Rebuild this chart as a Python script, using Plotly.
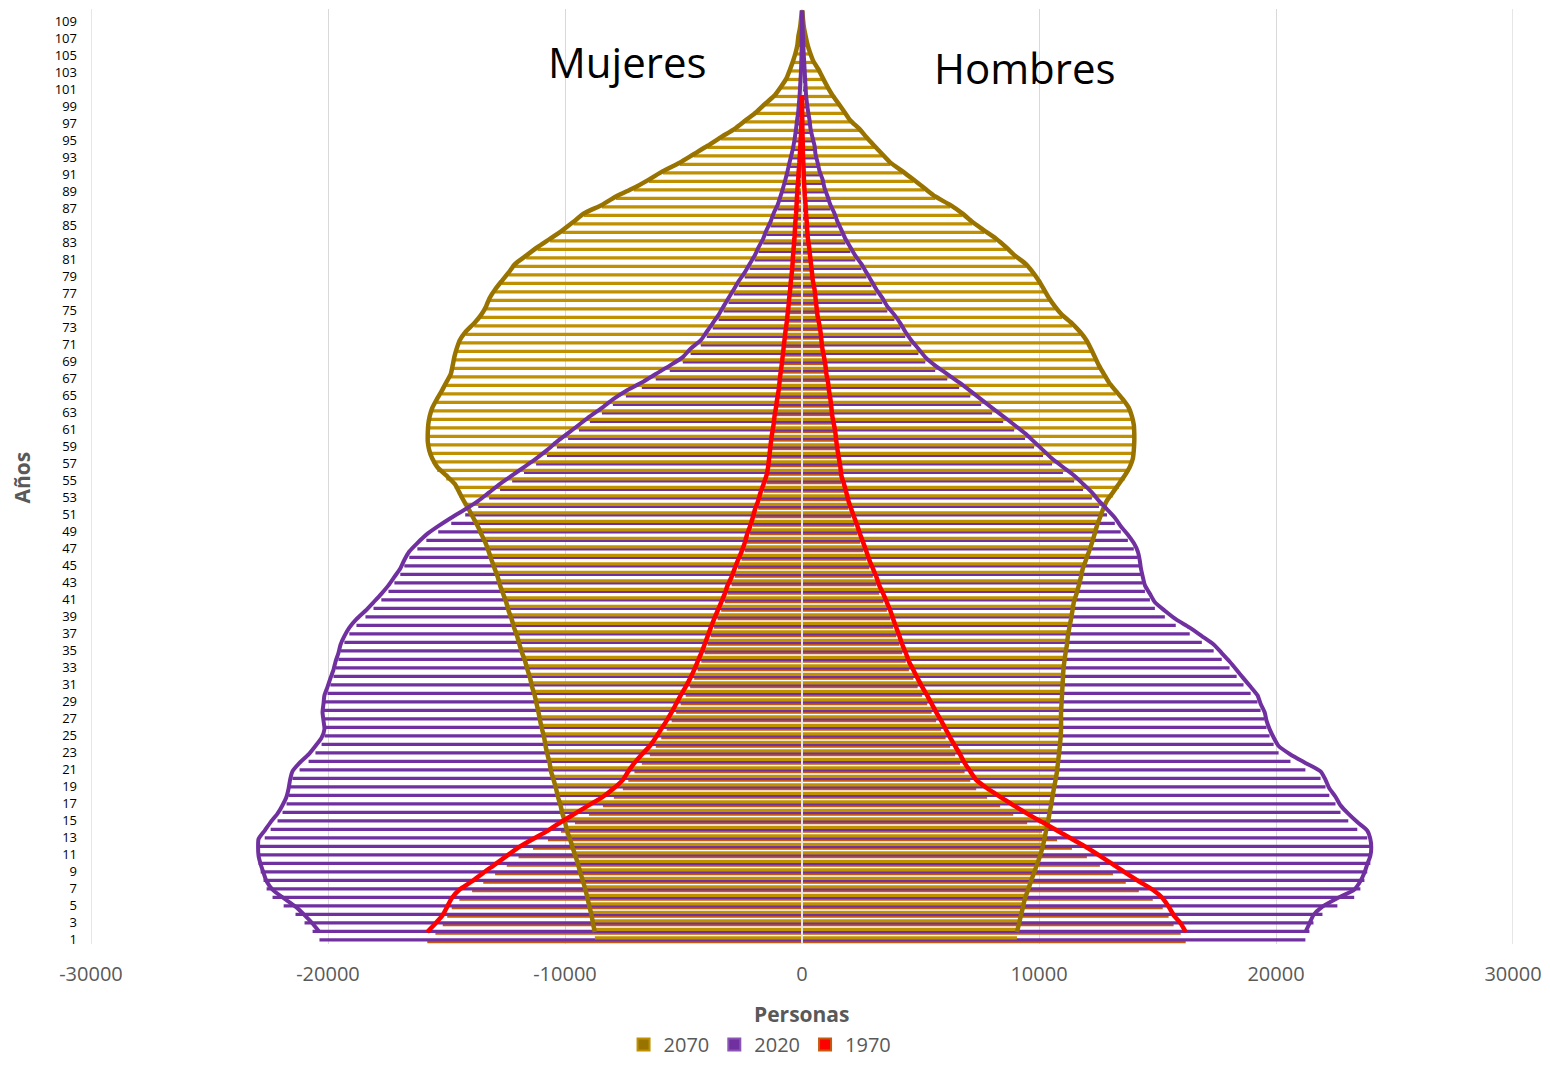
import plotly.graph_objects as go

# ---------------- data ----------------
edad = list(range(1, 111))

hombres_2020 = [
    21240, 21410, 21580, 21960, 22590, 23300, 23560, 23730, 23850, 23980,
    24020, 23980, 23850, 23430, 23050, 22720, 22510, 22250, 22090, 21880,
    21240, 20610, 20110, 19900, 19730, 19600, 19520, 19350, 19220, 18930,
    18630, 18340, 18040, 17710, 17370, 16870, 16360, 15770, 15310, 14890,
    14680, 14470, 14380, 14300, 14250, 14170, 14000, 13750, 13450, 13200,
    12870, 12530, 12230, 11860, 11480, 11010, 10550, 10170, 9790, 9410,
    8950, 8490, 8020, 7560, 7100, 6630, 6130, 5620, 5200, 4910,
    4610, 4360, 4150, 3900, 3600, 3390, 3140, 2930, 2720, 2510,
    2250, 2040, 1830, 1670, 1500, 1370, 1200, 1080, 950, 870,
    740, 660, 570, 530, 440, 360, 320, 260, 210, 170,
    150, 130, 110, 90, 70, 55, 40, 30, 20, 12]

mujeres_2020 = [
    20360, 20650, 20990, 21370, 21870, 22340, 22590, 22720, 22840, 22930,
    22950, 22930, 22670, 22420, 22130, 21920, 21750, 21660, 21600, 21500,
    21200, 20820, 20530, 20270, 20150, 20190, 20230, 20190, 20150, 20020,
    19900, 19770, 19680, 19560, 19470, 19310, 19100, 18800, 18420, 18080,
    17750, 17450, 17200, 16950, 16780, 16570, 16230, 15850, 15350, 14800,
    14210, 13660, 13200, 12740, 12230, 11730, 11220, 10760, 10340, 9870,
    9410, 8950, 8440, 7980, 7430, 6760, 6170, 5580, 5030, 4700,
    4270, 4020, 3770, 3520, 3310, 3100, 2880, 2670, 2420, 2210,
    2000, 1830, 1640, 1500, 1330, 1200, 1030, 910, 800, 700,
    610, 530, 440, 360, 300, 250, 210, 160, 130, 100,
    80, 60, 40, 30, 20, 17, 13, 8, 4, 2]

hombres_2070 = [
    9070, 9160, 9240, 9330, 9410, 9540, 9660, 9790, 9920, 10040,
    10150, 10230, 10300, 10380, 10440, 10510, 10570, 10630, 10700, 10760,
    10800, 10840, 10880, 10910, 10930, 10930, 10930, 10950, 10970, 10990,
    11010, 11030, 11070, 11120, 11180, 11220, 11280, 11350, 11410, 11470,
    11580, 11680, 11770, 11850, 11980, 12110, 12230, 12340, 12440, 12570,
    12700, 12860, 13120, 13370, 13620, 13830, 13960, 14000, 14020, 14020,
    14000, 13920, 13790, 13540, 13240, 12950, 12740, 12530, 12360, 12190,
    12000, 11730, 11390, 10970, 10670, 10420, 10210, 10000, 9750, 9450,
    8990, 8610, 8190, 7680, 7180, 6760, 6250, 5620, 5160, 4700,
    4230, 3730, 3390, 3050, 2720, 2420, 2040, 1790, 1540, 1280,
    1070, 880, 700, 480, 340, 230, 150, 80, 40, 13]

mujeres_2070 = [
    8740, 8820, 8880, 8970, 9050, 9140, 9240, 9350, 9450, 9560,
    9680, 9790, 9920, 10000, 10110, 10190, 10300, 10380, 10480, 10590,
    10650, 10740, 10820, 10880, 10970, 11050, 11120, 11200, 11280, 11390,
    11470, 11580, 11680, 11810, 11920, 12020, 12150, 12250, 12380, 12480,
    12610, 12740, 12840, 12970, 13100, 13220, 13350, 13520, 13680, 13870,
    14060, 14270, 14460, 14650, 15010, 15390, 15600, 15730, 15790, 15790,
    15770, 15710, 15600, 15410, 15200, 15010, 14820, 14740, 14670, 14570,
    14440, 14190, 13830, 13540, 13330, 13180, 12950, 12670, 12380, 12110,
    11640, 11160, 10630, 10110, 9640, 9200, 8440, 7850, 7100, 6460,
    5870, 5160, 4570, 3980, 3430, 2840, 2380, 1920, 1540, 1140,
    880, 650, 510, 380, 270, 190, 150, 80, 40, 5]

hombres_1970 = [
    16190, 15980, 15680, 15470, 15220, 14800, 14210, 13660, 13120, 12570,
    12020, 11390, 10760, 10130, 9500, 8910, 8360, 7810, 7350, 7100,
    6860, 6670, 6460, 6250, 6060, 5870, 5660, 5470, 5280, 5070,
    4880, 4700, 4510, 4380, 4230, 4110, 3980, 3850, 3730, 3580,
    3430, 3260, 3140, 2990, 2840, 2720, 2590, 2460, 2340, 2210,
    2080, 1960, 1870, 1770, 1660, 1620, 1560, 1500, 1450, 1410,
    1350, 1280, 1240, 1200, 1140, 1100, 1030, 990, 930, 860,
    820, 780, 720, 650, 610, 570, 530, 460, 420, 380,
    340, 300, 250, 220, 200, 170, 150, 120, 100, 80,
    70, 55, 40, 34, 25, 17, 13, 8, 6, 4,
    0, 0, 0, 0, 0, 0, 0, 0, 0, 0]

mujeres_1970 = [
    15810, 15470, 15160, 14970, 14780, 14460, 13920, 13450, 12950, 12460,
    11960, 11350, 10720, 10170, 9580, 8990, 8400, 7940, 7560, 7330,
    7070, 6760, 6420, 6170, 5940, 5710, 5500, 5310, 5120, 4910,
    4720, 4550, 4400, 4250, 4110, 3980, 3850, 3710, 3560, 3410,
    3260, 3140, 2970, 2840, 2700, 2550, 2420, 2320, 2190, 2080,
    1980, 1850, 1750, 1620, 1500, 1430, 1390, 1350, 1310, 1260,
    1200, 1160, 1100, 1050, 990, 950, 910, 860, 820, 780,
    740, 700, 650, 610, 570, 540, 500, 470, 430, 400,
    380, 350, 320, 300, 280, 250, 230, 210, 190, 160,
    140, 110, 90, 70, 50, 34, 21, 13, 6, 2,
    0, 0, 0, 0, 0, 0, 0, 0, 0, 0]

x_ticks = [-30000, -20000, -10000, 0, 10000, 20000, 30000]
x_ticklabels = ["-30000", "-20000", "-10000", "0", "10000", "20000", "30000"]
y_ticks = list(range(1, 110, 2))
y_ticklabels = [str(v) for v in y_ticks]

# ---------------- figure ----------------
fig = go.Figure()

BAR_W = 0.38
bar_series = [
    ("1970", mujeres_1970, hombres_1970, "#C55A11", -0.40),
    ("2020", mujeres_2020, hombres_2020, "#7030A0", -0.20),
    ("2070", mujeres_2070, hombres_2070, "#BF9000", 0.02),
]
for name, muj, hom, col, off in bar_series:
    for vals in ([-v for v in muj], hom):
        fig.add_trace(go.Bar(
            y=edad, x=vals, orientation="h", width=BAR_W, offset=off,
            marker=dict(color=col, line=dict(width=0)),
            showlegend=False, hoverinfo="skip"))

# vertical axis line at 0
fig.add_trace(go.Scatter(x=[0, 0], y=[0.5, 110.5], mode="lines",
                         line=dict(color="#E4E4E4", width=2),
                         showlegend=False, hoverinfo="skip"))

line_series = [
    (mujeres_2070, hombres_2070, "#997300", 4.5),
    (mujeres_2020, hombres_2020, "#7030A0", 4),
    (mujeres_1970, hombres_1970, "#FF0000", 4.5),
]
for muj, hom, col, w in line_series:
    for sign, vals in ((-1, muj), (1, hom)):
        pts = [(sign * v, a) for v, a in zip(vals, edad) if v > 0]
        fig.add_trace(go.Scatter(
            x=[p[0] for p in pts], y=[p[1] for p in pts], yaxis="y2",
            mode="lines", line=dict(color=col, width=w, shape="spline", smoothing=0.6),
            showlegend=False, hoverinfo="skip"))

# legend entries
legend_items = [("2070", "#997300", "#BF9000"),
                ("2020", "#7030A0", "#8A55B5"),
                ("1970", "#FF0000", "#C55A11")]
for name, fill, edge in legend_items:
    fig.add_trace(go.Bar(x=[None], y=[None], name=name, orientation="h",
                         marker=dict(color=fill, line=dict(color=edge, width=2))))

# gridlines at the two ends of the x range (plotly skips grid at range ends)
edge_shapes = [dict(type="line", xref="x", yref="paper", x0=v, x1=v, y0=0, y1=1,
                    layer="below", line=dict(color="#D9D9D9", width=1.3))
               for v in (x_ticks[0], x_ticks[-1])]

fig.update_layout(
    width=1534, height=1050,
    margin=dict(l=83, r=29, t=1, b=113.5, autoexpand=False),
    barmode="overlay",
    plot_bgcolor="white", paper_bgcolor="white",
    font=dict(family="Open Sans", color="#595959"),
    xaxis=dict(range=[-30000, 30000], tickvals=x_ticks, ticktext=x_ticklabels,
               showgrid=True, gridcolor="#D9D9D9", gridwidth=1.3,
               zeroline=False, showline=False, ticks="", automargin=False,
               ticklabeloverflow="allow",
               tickfont=dict(size=20, color="#595959"), ticklabelstandoff=16),
    yaxis=dict(range=[0.5, 110.5], tickvals=y_ticks, ticktext=y_ticklabels,
               showgrid=False, zeroline=False, showline=False, ticks="", automargin=False,
               tickfont=dict(size=13, color="#000000"), ticklabelstandoff=13),
    yaxis2=dict(overlaying="y", range=[-0.4187, 110.177], visible=False),
    legend=dict(orientation="h", x=0.4705, xanchor="center", y=-0.1074, yanchor="middle",
                font=dict(size=20, color="#595959"), traceorder="normal"),
    shapes=edge_shapes,
    annotations=[
        dict(text="Mujeres", x=-7390, y=104.3, xref="x", yref="y", showarrow=False,
             xanchor="center", yanchor="middle", font=dict(size=42, color="#000000")),
        dict(text="Hombres", x=9410, y=103.6, xref="x", yref="y", showarrow=False,
             xanchor="center", yanchor="middle", font=dict(size=42, color="#000000")),
        dict(text="<b>Personas</b>", x=0.5, y=-0.0748, xref="paper", yref="paper",
             xanchor="center", yanchor="middle",
             showarrow=False, font=dict(size=21, color="#595959")),
        dict(text="<b>Años</b>", x=-0.0485, y=0.499, xref="paper", yref="paper",
             xanchor="center", yanchor="middle",
             showarrow=False, textangle=-90, font=dict(size=21, color="#595959")),
    ],
)

fig.write_html("out.html")
